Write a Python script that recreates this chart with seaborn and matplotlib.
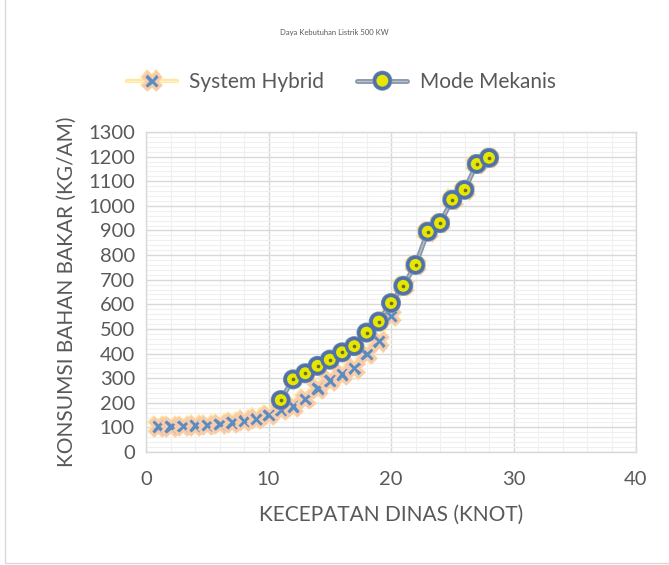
import matplotlib
matplotlib.use("Agg")
import matplotlib.pyplot as plt
import matplotlib.patheffects as pe
from matplotlib.ticker import MultipleLocator
from matplotlib.lines import Line2D
import seaborn as sns
import pandas as pd

# ---- data ----
speed_hybrid = list(range(1, 29))
fuel_hybrid = [104, 104, 105, 108, 110, 114, 120, 127, 135, 150,
               170, 185, 215, 258, 290, 315, 340, 398, 450, 553,
               675, 760, 895, 930, 1025, 1065, 1170, 1195]
speed_mekanis = list(range(11, 29))
fuel_mekanis = [211, 295, 320, 350, 375, 405, 430, 485, 530, 605,
                675, 760, 895, 930, 1025, 1065, 1170, 1195]
series_names = ["System Hybrid", "Mode Mekanis"]
title_text = "Daya Kebutuhan Listrik 500 KW"
xlabel_text = "KECEPATAN DINAS (KNOT)"
ylabel_text = "KONSUMSI BAHAN BAKAR (KG/AM)"

df_h = pd.DataFrame({"x": speed_hybrid, "y": fuel_hybrid})
df_m = pd.DataFrame({"x": speed_mekanis, "y": fuel_mekanis})

sns.set_style("white")
plt.rcParams["font.family"] = ["Lato", "DejaVu Sans"]

TXT = "#595959"
fig = plt.figure(figsize=(6.69, 5.65), dpi=100)
ax = fig.add_axes([146/669, 1-452/565, (636-146)/669, (452-132)/565])

hyb_pe = [pe.Stroke(linewidth=3.0, foreground="#FFE699"), pe.Normal()]
mek_pe = [pe.Stroke(linewidth=3.5, foreground="#8497B0"), pe.Normal()]
hyb_kw = dict(color="#FFF2CC", linewidth=1.0, marker="X", markersize=12,
              markerfacecolor="#5B8CC0", markeredgecolor="#F8CBAD", markeredgewidth=2.0)
mek_kw = dict(color="#BFBFBF", linewidth=1.0, marker="o", markersize=11,
              markerfacecolor="#E6E600", markeredgecolor="#4F72AA", markeredgewidth=2.4)

# hybrid series
sns.lineplot(data=df_h, x="x", y="y", ax=ax, zorder=3, path_effects=hyb_pe, **hyb_kw)
# mekanis series
sns.lineplot(data=df_m, x="x", y="y", ax=ax, zorder=4, path_effects=mek_pe, **mek_kw)
sns.scatterplot(data=df_m, x="x", y="y", ax=ax, color="#6B6B2F", s=7,
                linewidth=0, zorder=5)

ax.set_xlim(0, 40)
ax.set_ylim(0, 1300)
ax.xaxis.set_major_locator(MultipleLocator(10))
ax.xaxis.set_minor_locator(MultipleLocator(2))
ax.yaxis.set_major_locator(MultipleLocator(100))
ax.yaxis.set_minor_locator(MultipleLocator(20))
ax.grid(which="major", color="#D9D9D9", linewidth=1.0)
ax.grid(which="minor", color="#F0F0F0", linewidth=0.8)
ax.set_axisbelow(True)
for s in ax.spines.values():
    s.set_color("#D9D9D9")
    s.set_linewidth(1.0)
ax.tick_params(which="both", length=0, labelsize=14.5, colors=TXT)
ax.tick_params(axis="x", pad=14)
ax.tick_params(axis="y", pad=8)
ax.set_xlabel(xlabel_text, fontsize=15, color=TXT, labelpad=12)
ax.set_ylabel(ylabel_text, fontsize=15, color=TXT, labelpad=8)

fig.text(0.5, 1-33/565, title_text, fontsize=5.5, color=TXT, ha="center", va="center")

h1 = Line2D([], [], path_effects=hyb_pe, **hyb_kw)
h2 = Line2D([], [], path_effects=mek_pe, **mek_kw)
leg = fig.legend([h1, h2], series_names, loc="center", bbox_to_anchor=(0.51, 1-82/565),
                 ncol=2, frameon=False, fontsize=15, handlelength=2.4,
                 columnspacing=1.6, handletextpad=0.6)
for t in leg.get_texts():
    t.set_color(TXT)

# figure border (left & bottom)
fig.add_artist(Line2D([5/669, 5/669], [0.003, 1], color="#D9D9D9", linewidth=1))
fig.add_artist(Line2D([5/669, 1], [0.003, 0.003], color="#D9D9D9", linewidth=1))

fig.savefig("out.png", dpi=100)
